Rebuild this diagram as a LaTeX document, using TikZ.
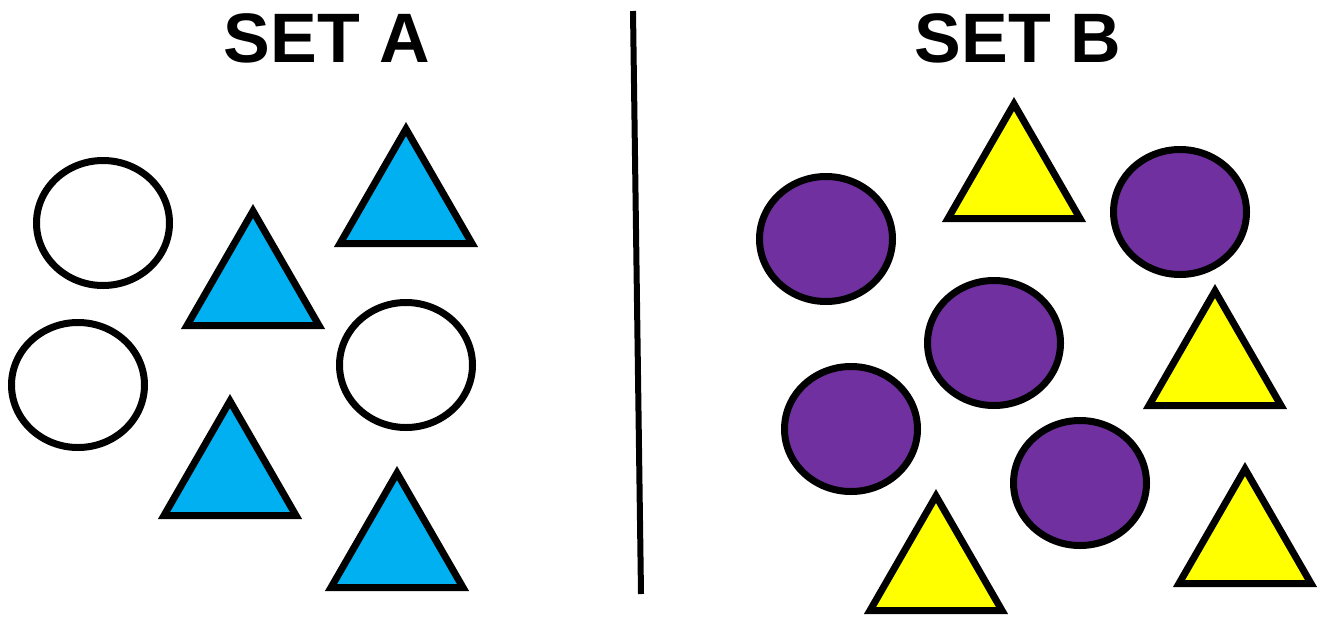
\documentclass[tikz,border=0pt]{standalone}
\usepackage{fontspec}
\setmainfont{Liberation Sans}
\definecolor{setblue}{HTML}{00B0F0}
\definecolor{setpurple}{HTML}{7030A0}
\definecolor{setyellow}{HTML}{FFFF00}
\begin{document}
\begin{tikzpicture}[x=0.75pt,y=-0.75pt,
  shapeline/.style={draw=black,line width=5.25pt,line join=miter},
  title/.style={inner sep=0pt,anchor=base,font=\fontsize{52.5}{60}\selectfont\bfseries},
  tri/.pic={\path[pic actions] (0,0) -- (66,114.5) -- (-66,114.5) -- cycle;},
  blob/.pic={\path[pic actions] (0,0) ellipse [x radius=66.5, y radius=62.5];}]
\useasboundingbox (0,0) rectangle (1324,618);
% titles
\node[title] (ta) at (327,62) {SET A};
\node[title] (tb) at (1018,62) {SET B};
% divider
\coordinate (dtop) at (633,11);
\coordinate (dbot) at (641,594);
\draw[line width=4.5pt] (dtop) -- (dbot);
% set A: white ellipses
\pic[shapeline,fill=white] at (103,223) {blob};
\pic[shapeline,fill=white] at (78,385) {blob};
\pic[shapeline,fill=white] at (406,365) {blob};
% set A: blue triangles
\pic[shapeline,fill=setblue] at (406,129) {tri};
\pic[shapeline,fill=setblue] at (253,211) {tri};
\pic[shapeline,fill=setblue] at (230,401) {tri};
\pic[shapeline,fill=setblue] at (397,473) {tri};
% set B: purple circles
\pic[shapeline,fill=setpurple] at (826,239) {blob};
\pic[shapeline,fill=setpurple] at (1180,212) {blob};
\pic[shapeline,fill=setpurple] at (994,343) {blob};
\pic[shapeline,fill=setpurple] at (851,429) {blob};
\pic[shapeline,fill=setpurple] at (1080,483) {blob};
% set B: yellow triangles
\pic[shapeline,fill=setyellow] at (1014,104) {tri};
\pic[shapeline,fill=setyellow] at (1215,291) {tri};
\pic[shapeline,fill=setyellow] at (936,496) {tri};
\pic[shapeline,fill=setyellow] at (1245,469) {tri};
\end{tikzpicture}
\end{document}
